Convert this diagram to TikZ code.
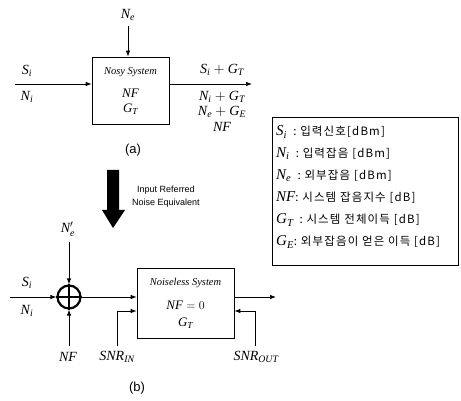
\documentclass[tikz,border=0pt]{standalone}
\usepackage{fontspec}
\setmainfont{Liberation Serif}
\setsansfont{Liberation Sans}
\newfontfamily\kr[LetterSpace=10]{Noto Sans CJK KR}
\usetikzlibrary{arrows.meta}
\newcommand\mi[1]{\mathit{#1}}
\begin{document}
\begin{tikzpicture}[x=1pt,y=-1pt,
  sysbox/.style={draw,line width=0.7pt,inner sep=0pt},
  lab/.style={inner sep=0pt,font=\fontsize{14}{14}\selectfont},
  boxtxt/.style={inner sep=0pt,font=\fontsize{13}{13}\selectfont},
  arr/.style={line width=0.8pt,-{Latex[length=6pt,width=4.5pt]}},
  ln/.style={line width=0.8pt},
  captxt/.style={inner sep=0pt,font=\sffamily\fontsize{13}{13}\selectfont},
  leg/.style={inner sep=0pt,anchor=west,font=\fontsize{15}{15}\selectfont},
  legtxt/.style={},
  note/.style={inner sep=0pt,font=\sffamily\fontsize{9}{9}\selectfont}]
\useasboundingbox (0,0) rectangle (461,401);

% ---------- (a) ----------
\node[sysbox,minimum width=77pt,minimum height=67pt] (boxa) at (130.5,90.5) {};
\node[boxtxt] (ta1) at (130.5,72) {\fontsize{10.5}{10.5}\selectfont\itshape Nosy System};
\node[boxtxt] (ta2) at (130.5,93) {$\mi{NF}$};
\node[boxtxt] (ta3) at (130.5,109) {$\mi{G}_{\mi{T}}$};

\node[lab] (ne) at (128,15) {$\mi{N}_{\mi{e}}$};
\coordinate (netop) at (128,26);
\draw[arr] (netop) -- (boxa.north -| netop);

\coordinate (ina) at (15,84);
\draw[arr] (ina) -- (boxa.west |- ina);
\node[lab] (sia) at (27,71) {$\mi{S}_{\mi{i}}$};
\node[lab] (nia) at (27,97) {$\mi{N}_{\mi{i}}$};

\coordinate (outa) at (252,84);
\draw[arr] (boxa.east |- outa) -- (outa);
\node[lab] (o1) at (222,70) {$\mi{S}_{\mi{i}} + \mi{G}_{\mi{T}}$};
\node[lab] (o2) at (222,97) {$\mi{N}_{\mi{i}} + \mi{G}_{\mi{T}}$};
\node[lab] (o3) at (222,112) {$\mi{N}_{\mi{e}} + \mi{G}_{\mi{E}}$};
\node[lab] (o4) at (222,127) {$\mi{NF}$};

\node[captxt] (capa) at (133,150) {(a)};

% ---------- big arrow ----------
\fill (107,170) -- (119,170) -- (119,210) -- (125,210) -- (113,228) -- (102,210) -- (107,210) -- cycle;
\node[note] (n1) at (166,190) {Input Referred};
\node[note] (n2) at (166,203) {Noise Equivalent};

% ---------- legend ----------
\node[draw,line width=0.7pt,minimum width=186pt,minimum height=148pt,inner sep=0pt] (legend) at (365,191) {};
\newcommand\kt[1]{{\kr\fontsize{11.5}{11.5}\selectfont #1}}
\node[leg] (l1) at (276,132) {$\mi{S}_{\mi{i}}$\,\kt{\ :\ 입력신호[dBm]}};
\node[leg] (l2) at (276,154) {$\mi{N}_{\mi{i}}$\,\kt{\ :\ 입력잡음 [dBm]}};
\node[leg] (l3) at (276,176) {$\mi{N}_{\mi{e}}$\,\kt{\ :\ 외부잡음 [dBm]}};
\node[leg] (l4) at (276,198) {$\mi{NF}$\kt{:\ 시스템 잡음지수 [dB]}};
\node[leg] (l5) at (276,220) {$\mi{G}_{\mi{T}}$\,\kt{\ :\ 시스템 전체이득 [dB]}};
\node[leg] (l6) at (276,242) {$\mi{G}_{\mi{E}}$\kt{:\ 외부잡음이 얻은 이득 [dB]}};

% ---------- (b) ----------
\node[draw,circle,line width=2.2pt,minimum size=23pt,inner sep=0pt] (sum) at (69,297) {};
\draw[line width=2pt] (sum.north) -- (sum.south) (sum.west) -- (sum.east);

\node[lab] (neb) at (68,229) {$\mi{N}'_{\mi{e}}$};
\coordinate (nebtop) at (69,242);
\draw[arr] (nebtop) -- (sum.north);

\node[lab] (nfb) at (68,357) {$\mi{NF}$};
\coordinate (nfbot) at (69,346);
\draw[arr] (nfbot) -- (sum.south);

\coordinate (inb) at (10,297);
\draw[arr] (inb) -- (sum.west);
\node[lab] (sib) at (27,283) {$\mi{S}_{\mi{i}}$};
\node[lab] (nib) at (27,311) {$\mi{N}_{\mi{i}}$};

\node[sysbox,minimum width=97pt,minimum height=70pt] (boxb) at (185.5,303) {};
\node[boxtxt] (tb1) at (185.5,283) {\fontsize{10.5}{10.5}\selectfont\itshape Noiseless System};
\node[boxtxt] (tb2) at (185.5,305) {$\mi{NF} = 0$};
\node[boxtxt] (tb3) at (185.5,323) {$\mi{G}_{\mi{T}}$};

\draw[arr] (sum.east) -- (boxb.west |- sum.east);

\node[lab] (snrin) at (117,357) {$\mi{SNR}_{\mi{IN}}$};
\coordinate (snrinb) at (117,346);
\coordinate (snrinc) at (117,311);
\draw[ln] (snrinb) -- (snrinc);
\draw[arr] (snrinc) -- (boxb.west |- snrinc);

\coordinate (outb) at (276,297);
\draw[arr] (boxb.east |- outb) -- (outb);

\node[lab] (snrout) at (256,357) {$\mi{SNR}_{\mi{OUT}}$};
\coordinate (snroutb) at (255,346);
\coordinate (snroutc) at (255,311);
\draw[ln] (snroutb) -- (snroutc);
\draw[arr] (snroutc) -- (boxb.east |- snroutc);

\node[captxt] (capb) at (137,388) {(b)};
\end{tikzpicture}
\end{document}
